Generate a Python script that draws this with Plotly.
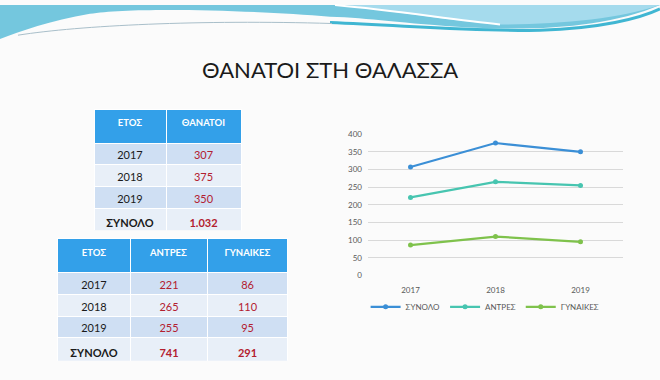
import plotly.graph_objects as go

years = ["2017", "2018", "2019"]
total = [307, 375, 350]
men = [221, 265, 255]
women = [86, 110, 95]
total_sum = "1.032"
men_sum = "741"
women_sum = "291"
title_text = "ΘΑΝΑΤΟΙ ΣΤΗ ΘΑΛΑΣΣΑ"
hdr1 = ["ΕΤΟΣ", "ΘΑΝΑΤΟΙ"]
hdr2 = ["ΕΤΟΣ", "ΑΝΤΡΕΣ", "ΓΥΝΑΙΚΕΣ"]
sum_label = "ΣΥΝΟΛΟ"
series_names = ["ΣΥΝΟΛΟ", "ΑΝΤΡΕΣ", "ΓΥΝΑΙΚΕΣ"]
yticks = [0, 50, 100, 150, 200, 250, 300, 350, 400]

W, H = 660, 380
FONT = "Lato"
BLUE_HDR = "#33a0e9"
ROW_D = "#cfdff3"
ROW_L = "#e8eff8"
RED = "#b3202f"
colors = ["#3b8fd6", "#47c5b0", "#7fc24c"]


def px(x, y):
    return f"{x / W:.5f},{1 - y / H:.5f}"


def path(cmds):
    out = []
    for c, pts in cmds:
        if c == "Z":
            out.append("Z")
        else:
            out.append(c + " " + " ".join(px(*p) for p in pts))
    return " ".join(out)


fig = go.Figure()

# line chart
for name, vals, col in zip(series_names, [total, men, women], colors):
    fig.add_trace(go.Scatter(
        x=years, y=vals, name=name, mode="lines+markers",
        line=dict(color=col, width=2.2),
        marker=dict(color=col, size=5),
    ))

# table 1
rows1_years = years + [f"<b>{sum_label}</b>"]
rows1_vals = [str(v) for v in total] + [f"<b>{total_sum}</b>"]
fills4 = [ROW_D, ROW_L, ROW_D, ROW_L]
fig.add_trace(go.Table(
    domain=dict(x=[94 / W, 241 / W], y=[1 - 232 / H, 1 - 107 / H]),
    columnwidth=[72, 75],
    header=dict(values=[f"<b>{h}</b>" for h in hdr1], fill_color=BLUE_HDR,
                line=dict(color="white", width=1), height=34, align="center",
                font=dict(family=FONT, size=9.5, color="white")),
    cells=dict(values=[rows1_years, rows1_vals], fill_color=[fills4, fills4],
               line=dict(color="white", width=1), height=21.75, align="center",
               font=dict(family=FONT, size=11, color=[["#1a1a1a"] * 4, [RED] * 4])),
))

# table 2
rows2_years = years + [f"<b>{sum_label}</b>"]
rows2_men = [str(v) for v in men] + [f"<b>{men_sum}</b>"]
rows2_women = [str(v) for v in women] + [f"<b>{women_sum}</b>"]
fig.add_trace(go.Table(
    domain=dict(x=[57.5 / W, 288 / W], y=[1 - 366 / H, 1 - 240 / H]),
    columnwidth=[73, 77, 80],
    header=dict(values=[f"<b>{h}</b>" for h in hdr2], fill_color=BLUE_HDR,
                line=dict(color="white", width=1), height=34, align="center",
                font=dict(family=FONT, size=9.5, color="white")),
    cells=dict(values=[rows2_years, rows2_men, rows2_women],
               fill_color=[fills4, fills4, fills4],
               line=dict(color="white", width=1), height=21.75, align="center",
               font=dict(family=FONT, size=11,
                         color=[["#1a1a1a"] * 4, [RED] * 4, [RED] * 4])),
))

shapes = [
    # top teal band
    dict(type="path", xref="paper", yref="paper", layer="below",
         path=path([("M", [(0, 0)]), ("L", [(660, 0), (660, 4)]),
                    ("C", [(610, 22), (540, 27), (470, 23)]),
                    ("C", [(400, 19), (370, 13), (330, 12)]),
                    ("C", [(250, 5), (130, 2), (90, 9)]),
                    ("C", [(50, 16), (20, 27), (0, 35)]), ("Z", [])]),
         fillcolor="#74c7de", line=dict(width=0)),
    # light blue upper right
    dict(type="path", xref="paper", yref="paper", layer="below",
         path=path([("M", [(345, 0)]), ("L", [(660, 0), (660, 2)]),
                    ("C", [(620, 14), (560, 20), (500, 20)]),
                    ("C", [(440, 15), (390, 6), (345, 0)]), ("Z", [])]),
         fillcolor="#a5dbed", line=dict(width=0)),
    # white streak
    dict(type="path", xref="paper", yref="paper", layer="below",
         path=path([("M", [(335, 0)]), ("C", [(400, 6), (450, 15), (500, 20)])]),
         line=dict(color="white", width=2)),
    # lower dark teal curve
    dict(type="path", xref="paper", yref="paper", layer="below",
         path=path([("M", [(330, 18)]), ("C", [(420, 22), (480, 27), (540, 26)]),
                    ("C", [(600, 24), (640, 14), (660, 4)])]),
         line=dict(color="#40b6d2", width=3)),
    # thin grey line
    dict(type="path", xref="paper", yref="paper", layer="below",
         path=path([("M", [(18, 31)]), ("C", [(80, 21), (200, 15), (332, 19)])]),
         line=dict(color="#a9bfca", width=1)),
]

fig.update_layout(
    width=W, height=H,
    margin=dict(l=0, r=0, t=0, b=0),
    paper_bgcolor="#fbfbfb", plot_bgcolor="rgba(0,0,0,0)",
    font=dict(family=FONT, color="#595959"),
    shapes=shapes,
    showlegend=True,
    legend=dict(orientation="h", x=0.735, xanchor="center", y=1 - 310 / H,
                yanchor="middle", font=dict(family=FONT, size=8, color="#595959"),
                itemwidth=30, bgcolor="rgba(0,0,0,0)", tracegroupgap=0),
    xaxis=dict(domain=[368 / W, 623 / W], type="category", range=[-0.5, 2.5],
               showgrid=False, showline=False, zeroline=False, ticks="",
               tickfont=dict(family=FONT, size=8, color="#595959"),
               ticklabelstandoff=9),
    yaxis=dict(domain=[1 - 277.7 / H, 1 - 132.7 / H], range=[0, 400],
               tickvals=yticks, showgrid=True, gridcolor="#d9d9d9", gridwidth=1,
               zeroline=False, showline=False, ticks="",
               tickfont=dict(family=FONT, size=8, color="#595959"),
               ticklabelstandoff=5),
    annotations=[dict(text=title_text, xref="paper", yref="paper", x=0.5,
                      y=1 - 66 / H, xanchor="center", yanchor="middle",
                      showarrow=False,
                      font=dict(family=FONT, size=22, color="#1a1a1a"))],
)

fig.write_html("out.html", config={"displayModeBar": False},
               post_script="document.body.style.margin='0';document.body.style.overflow='hidden';")
